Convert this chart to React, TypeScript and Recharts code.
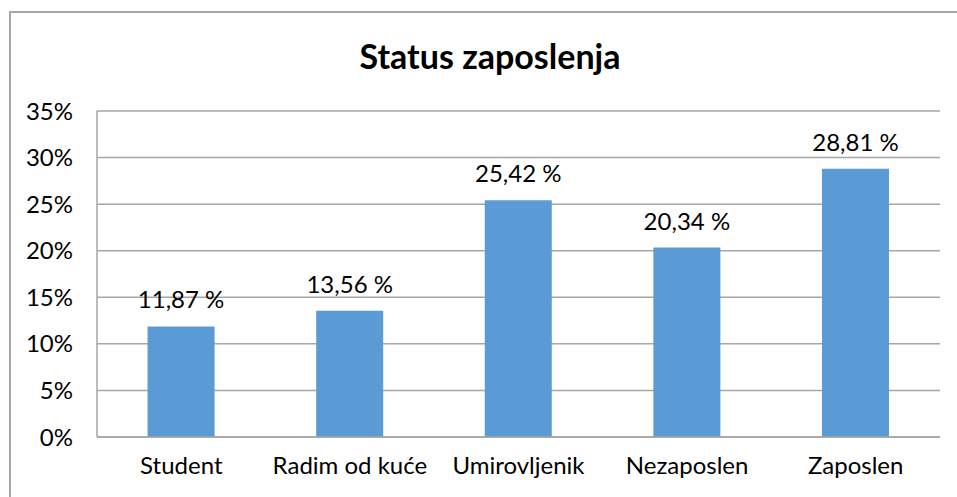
import { BarChart, Bar, XAxis, YAxis, CartesianGrid, LabelList } from 'recharts';

const categories = ['Student', 'Radim od kuće', 'Umirovljenik', 'Nezaposlen', 'Zaposlen'];
const shares = [11.87, 13.56, 25.42, 20.34, 28.81];
const yTicks = [0, 5, 10, 15, 20, 25, 30, 35];

const data = categories.map((name, i) => ({ name, value: shares[i] }));

const font = 'Lato, Carlito, "Open Sans", sans-serif';
const fmtLabel = (v: number) => `${v.toFixed(2).replace('.', ',')} %`;

export default function App() {
  return (
    <div style={{ position: 'fixed', left: 0, top: 0, width: 957, height: 497, overflow: 'hidden', background: '#fff', fontFamily: font }}>
      <div style={{ position: 'absolute', left: 9, top: 11, width: 960, height: 500, borderLeft: '2px solid #a6a6a6', borderTop: '2px solid #a6a6a6', boxSizing: 'border-box' }} />
      <div style={{ position: 'absolute', left: 0, top: 35, width: 980, textAlign: 'center', fontSize: 34, fontWeight: 700, color: '#000' }}>
        Status zaposlenja
      </div>
      <div style={{ position: 'absolute', left: 0, top: 0 }}>
        <BarChart width={957} height={497} data={data} margin={{ top: 111, right: 17, bottom: 0, left: 0 }} barCategoryGap="30%">
          <CartesianGrid vertical={false} stroke="#a6a6a6" strokeWidth={1.5} />
          <XAxis
            dataKey="name"
            height={60}
            axisLine={{ stroke: '#a6a6a6', strokeWidth: 1.5 }}
            tickLine={false}
            tickSize={0}
            tickMargin={20}
            tick={{ fill: '#000', fontSize: 24, fontFamily: font }}
            interval={0}
          />
          <YAxis
            width={97}
            domain={[0, 35]}
            ticks={yTicks}
            tickFormatter={(v: number) => `${v}%`}
            axisLine={{ stroke: '#a6a6a6', strokeWidth: 1.5 }}
            tickLine={false}
            tickSize={0}
            tickMargin={24}
            tick={{ fill: '#000', fontSize: 24, fontFamily: font }}
          />
          <Bar dataKey="value" fill="#5b9bd5" isAnimationActive={false}>
            <LabelList dataKey="value" position="top" offset={18} formatter={fmtLabel} style={{ fill: '#000', fontSize: 24, fontFamily: font }} />
          </Bar>
        </BarChart>
      </div>
    </div>
  );
}
